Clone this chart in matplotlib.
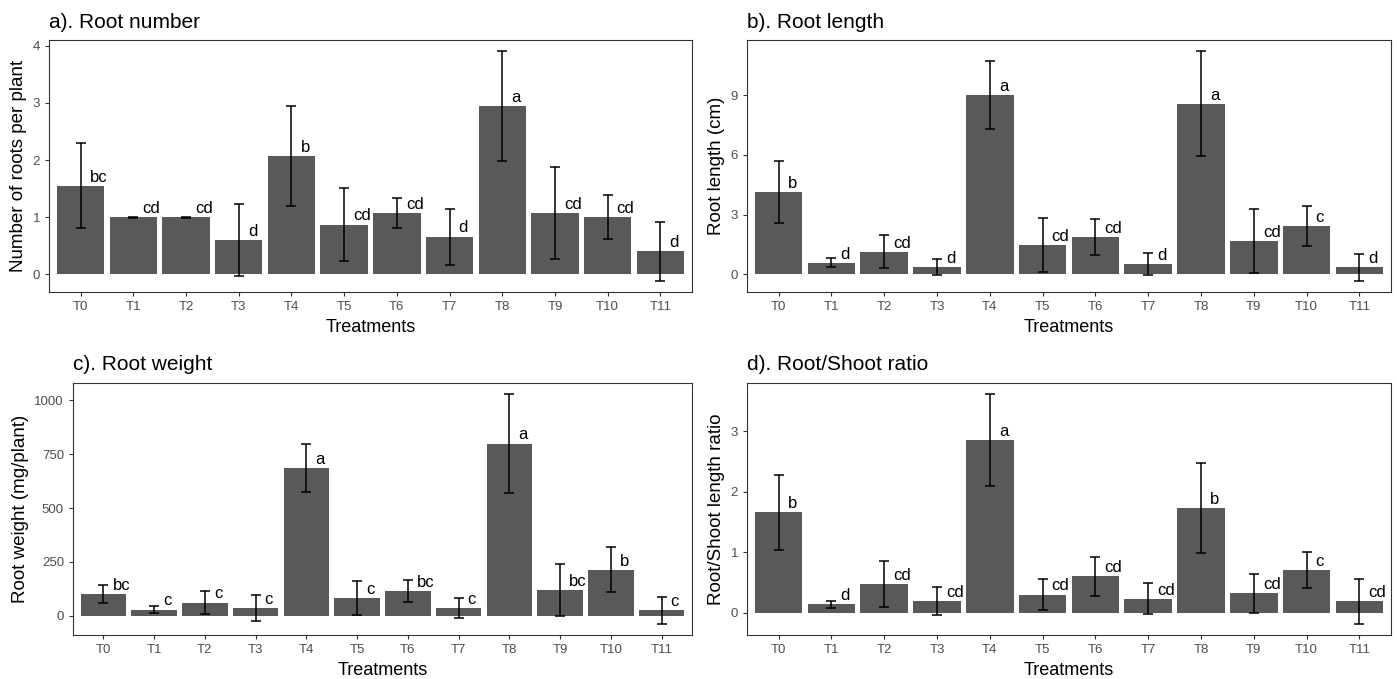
import matplotlib
matplotlib.use("Agg")
import matplotlib.pyplot as plt
import numpy as np

plt.rcParams['font.family'] = ['Liberation Sans', 'DejaVu Sans']

treatments = ["T0", "T1", "T2", "T3", "T4", "T5", "T6", "T7", "T8", "T9", "T10", "T11"]

# a) root number
num_mean = [1.55, 1.00, 1.00, 0.60, 2.07, 0.87, 1.07, 0.66, 2.94, 1.07, 1.00, 0.40]
num_sd = [0.74, 0.01, 0.01, 0.63, 0.88, 0.64, 0.26, 0.49, 0.96, 0.80, 0.38, 0.51]
num_let = ["bc", "cd", "cd", "d", "b", "cd", "cd", "d", "a", "cd", "cd", "d"]

# b) root length
len_mean = [4.14, 0.57, 1.13, 0.37, 9.03, 1.47, 1.87, 0.52, 8.57, 1.68, 2.43, 0.36]
len_sd = [1.55, 0.23, 0.84, 0.39, 1.71, 1.37, 0.89, 0.57, 2.64, 1.61, 1.02, 0.68]
len_let = ["b", "d", "cd", "d", "a", "cd", "cd", "d", "a", "cd", "c", "d"]

# c) root weight
wt_mean = [100, 29, 61, 35, 686, 82, 113, 35, 799, 118, 214, 25]
wt_sd = [42, 16, 54, 61, 110, 78, 51, 47, 228, 120, 103, 61]
wt_let = ["bc", "c", "c", "c", "a", "c", "bc", "c", "a", "bc", "b", "c"]

# d) root/shoot ratio
rs_mean = [1.66, 0.14, 0.47, 0.19, 2.85, 0.30, 0.60, 0.23, 1.73, 0.32, 0.70, 0.19]
rs_sd = [0.62, 0.06, 0.38, 0.23, 0.76, 0.26, 0.32, 0.26, 0.74, 0.32, 0.30, 0.37]
rs_let = ["b", "d", "cd", "cd", "a", "cd", "cd", "cd", "b", "cd", "c", "cd"]

W, H = 1397, 679


def px_axes(fig, left, top, right, bottom):
    return fig.add_axes([left / W, 1 - bottom / H, (right - left) / W, (bottom - top) / H])


def panel(ax, mean, sd, letters, title, ylabel, yticks):
    x = np.arange(len(treatments))
    mean = np.array(mean, dtype=float)
    sd = np.array(sd, dtype=float)
    ax.bar(x, mean, width=0.9, color="#595959", zorder=1)
    ax.errorbar(x, mean, yerr=sd, fmt="none", ecolor="black", elinewidth=1.1,
                capsize=3.4, capthick=1.1, zorder=2)
    for xi, m, lab in zip(x, mean, letters):
        ax.annotate(lab, (xi, m), xytext=(6.5, 3), textcoords="offset points",
                    ha="left", va="baseline", fontsize=12, color="black")
    lo = min(0, (mean - sd).min())
    hi = max(0, (mean + sd).max())
    pad = (hi - lo) * 0.05
    ax.set_ylim(lo - pad, hi + pad)
    ax.set_xlim(-0.6, len(treatments) - 0.4)
    ax.set_xticks(x)
    ax.set_xticklabels(treatments)
    ax.set_yticks(yticks)
    ax.tick_params(colors="#333333", labelcolor="#4d4d4d", labelsize=9.5, length=3, width=0.8)
    for s in ax.spines.values():
        s.set_color("#333333")
        s.set_linewidth(0.8)
    ax.set_title(title, loc="left", fontsize=15, pad=9)
    ax.set_xlabel("Treatments", fontsize=13, labelpad=4)
    ax.set_ylabel(ylabel, fontsize=13.5, labelpad=4)


fig = plt.figure(figsize=(W / 100, H / 100), dpi=100)

ax_a = px_axes(fig, 49, 40, 692, 292)
panel(ax_a, num_mean, num_sd, num_let, "a). Root number", "Number of roots per plant", [0, 1, 2, 3, 4])

ax_b = px_axes(fig, 747, 40, 1391, 292)
panel(ax_b, len_mean, len_sd, len_let, "b). Root length", "Root length (cm)", [0, 3, 6, 9])

ax_c = px_axes(fig, 73, 383, 692, 635)
panel(ax_c, wt_mean, wt_sd, wt_let, "c). Root weight", "Root weight (mg/plant)", [0, 250, 500, 750, 1000])

ax_d = px_axes(fig, 747, 383, 1391, 635)
panel(ax_d, rs_mean, rs_sd, rs_let, "d). Root/Shoot ratio", "Root/Shoot length ratio", [0, 1, 2, 3])

fig.savefig("out.png", dpi=100)
